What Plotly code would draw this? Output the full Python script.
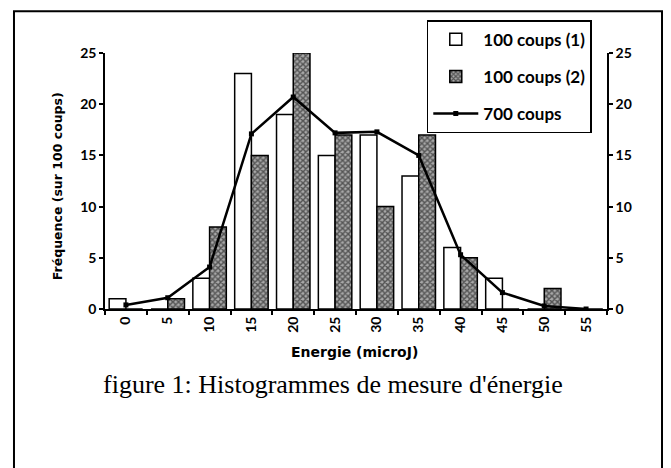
import plotly.graph_objects as go

categories = ["0", "5", "10", "15", "20", "25", "30", "35", "40", "45", "50", "55"]
coups_100_1 = [1, 0, 3, 23, 19, 15, 17, 13, 6, 3, 0, 0]
coups_100_2 = [0, 1, 8, 15, 25, 17, 10, 17, 5, 0, 2, 0]
coups_700 = [0.4, 1.1, 4.1, 17.1, 20.7, 17.2, 17.3, 15.0, 5.3, 1.6, 0.3, 0.0]
y_ticks = [0, 5, 10, 15, 20, 25]

tick_font = dict(family="Lato", size=14, color="black", weight="bold")

fig = go.Figure()
fig.add_trace(go.Bar(
    x=categories, y=coups_100_1, name="100 coups (1)", legendgroup="a",
    marker=dict(color="white", line=dict(color="black", width=1.5)),
))
fig.add_trace(go.Bar(
    x=categories, y=coups_100_2, name="100 coups (2)", legendgroup="b",
    marker=dict(color="white", line=dict(color="black", width=1.5),
                pattern=dict(shape="x", fgcolor="black", bgcolor="#a8a8a8", size=4, solidity=0.6)),
))
fig.add_trace(go.Scatter(
    x=categories, y=coups_700, name="700 coups", legendgroup="c", mode="lines+markers",
    line=dict(color="black", width=2.5), marker=dict(symbol="square", size=5, color="black"),
))
# invisible trace so the right axis is drawn
fig.add_trace(go.Scatter(x=categories, y=coups_700, yaxis="y2", showlegend=False,
                         mode="lines", line=dict(width=0), hoverinfo="skip"))

fig.update_layout(
    width=663, height=460,
    margin=dict(l=97, r=64, t=43, b=159),
    paper_bgcolor="white", plot_bgcolor="white",
    barmode="group", bargap=0.2, bargroupgap=0,
    showlegend=True,
    legend=dict(
        x=0.641, y=1.128, xanchor="left", yanchor="top",
        bgcolor="white", bordercolor="black", borderwidth=1.5,
        font=dict(family="Lato", size=17, color="black", weight="bold"),
        tracegroupgap=12, itemwidth=45,
    ),
    xaxis=dict(
        type="category", range=[-0.5, 11.5], showline=True, linecolor="black", linewidth=2,
        ticks="outside", ticklen=4, tickcolor="black", tickwidth=1.5,
        tickson="boundaries", tickangle=-90, tickfont=tick_font,
        showgrid=False, zeroline=False, fixedrange=True,
    ),
    yaxis=dict(
        range=[0, 25], tickvals=y_ticks, showline=True, linecolor="black", linewidth=1.5,
        ticks="outside", ticklen=4, tickcolor="black", tickwidth=1.5,
        tickfont=tick_font, showgrid=False, zeroline=False,
    ),
    yaxis2=dict(
        range=[0, 25], tickvals=y_ticks, overlaying="y", side="right",
        showline=True, linecolor="black", linewidth=1.5,
        ticks="outside", ticklen=4, tickcolor="black", tickwidth=1.5,
        tickfont=tick_font, showgrid=False, zeroline=False,
    ),
    annotations=[
        dict(text="Energie (microJ)", x=0.498, y=-0.167, xref="paper", yref="paper",
             showarrow=False, xanchor="center", yanchor="middle",
             font=dict(family="DejaVu Sans", size=14, color="black", weight="bold")),
        dict(text="Fréquence (sur 100 coups)", x=-0.0956, y=0.48, xref="paper", yref="paper",
             showarrow=False, xanchor="center", yanchor="middle", textangle=-90,
             font=dict(family="DejaVu Sans", size=12.5, color="black", weight="bold")),
        dict(text="figure 1: Histogrammes de mesure d'énergie", x=0.454, y=-0.295,
             xref="paper", yref="paper", showarrow=False, xanchor="center", yanchor="middle",
             font=dict(family="Liberation Serif", size=26, color="black")),
    ],
    shapes=[
        dict(type="rect", xref="paper", yref="paper", x0=-0.1813, x1=1.1096, y0=-0.64, y1=1.163,
             line=dict(color="black", width=2), fillcolor="rgba(0,0,0,0)", layer="below"),
    ],
)

fig.write_html("out.html")
